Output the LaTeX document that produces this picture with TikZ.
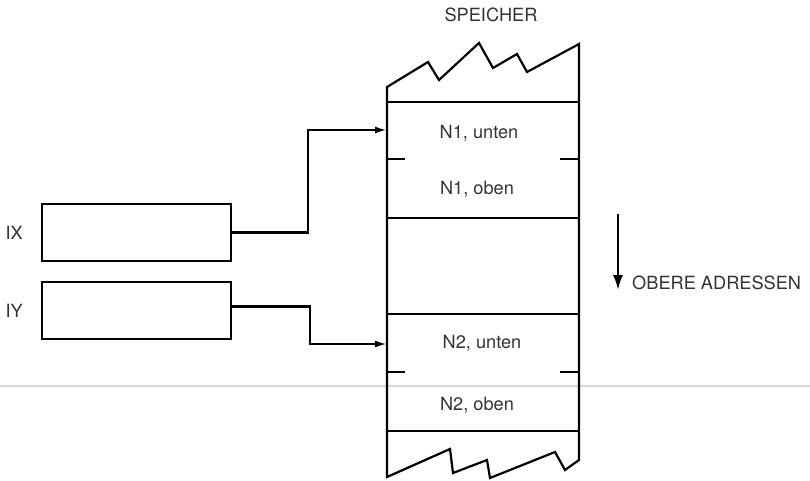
\documentclass[tikz,border=0pt]{standalone}
\usepackage{fontspec}
\setmainfont{TeX Gyre Heros}
\usetikzlibrary{arrows.meta,positioning}

\begin{document}
\begin{tikzpicture}[x=1pt,y=-1pt,
  reg/.style={draw,line width=2.2pt,minimum width=189pt,minimum height=57pt,inner sep=0pt},
  wall/.style={line width=2.2pt,line join=miter},
  lbl/.style={font=\fontsize{18.2}{20}\selectfont,text=black!80,inner sep=0pt},
  arr/.style={-{Latex[length=12pt,width=7pt]},line width=2.2pt}]
\useasboundingbox (0,0) rectangle (810,481);
% faint scan line across the page
\draw[gray!30,line width=1.2pt] (0,386) -- (810,386);
% index registers
\node[reg] (ix) at (136.5,232.5) {};
\node[reg] (iy) at (136.5,310.5) {};
\node[lbl,left=18pt of ix] (ixlbl) {IX};
\node[lbl,left=18pt of iy] (iylbl) {IY};
% memory column
\draw[wall] (387,87) -- (428,62) -- (439,80) -- (479,43) -- (493,68) -- (517,54)
  -- (527,72) -- (579,44) -- (579,460) -- (565,470) -- (555,452) -- (490,478)
  -- (487,460) -- (453,473) -- (450,449) -- (387,477) -- cycle;
\foreach \y in {102,218,314,431}
  \draw[wall] (387,\y) -- (579,\y);
\foreach \y in {159,372}{
  \draw[wall] (387,\y) -- (405,\y);
  \draw[wall] (560,\y) -- (579,\y);}
\node[lbl] (speicher) at (491,15) {SPEICHER};
\node[lbl] (n1u) at (479,133) {N1, unten};
\node[lbl] (n1o) at (477,189) {N1, oben};
\node[lbl] (n2u) at (482,343) {N2, unten};
\node[lbl] (n2o) at (477,405) {N2, oben};
\coordinate (n1in) at (387,130);
\coordinate (n2in) at (387,344);
% pointers
\draw[arr] (ix.east) -- ++(76,0) |- (n1in);
\draw[arr] ([yshift=4pt]iy.east) -- ++(78,0) |- (n2in);
% direction
\node[lbl,anchor=west] (ober) at (632,283) {OBERE ADRESSEN};
\coordinate (dirtop) at (618,214);
\draw[-{Latex[length=15pt,width=10pt]},line width=2.4pt] (dirtop) -- (dirtop |- ober.south);
\end{tikzpicture}
\end{document}
